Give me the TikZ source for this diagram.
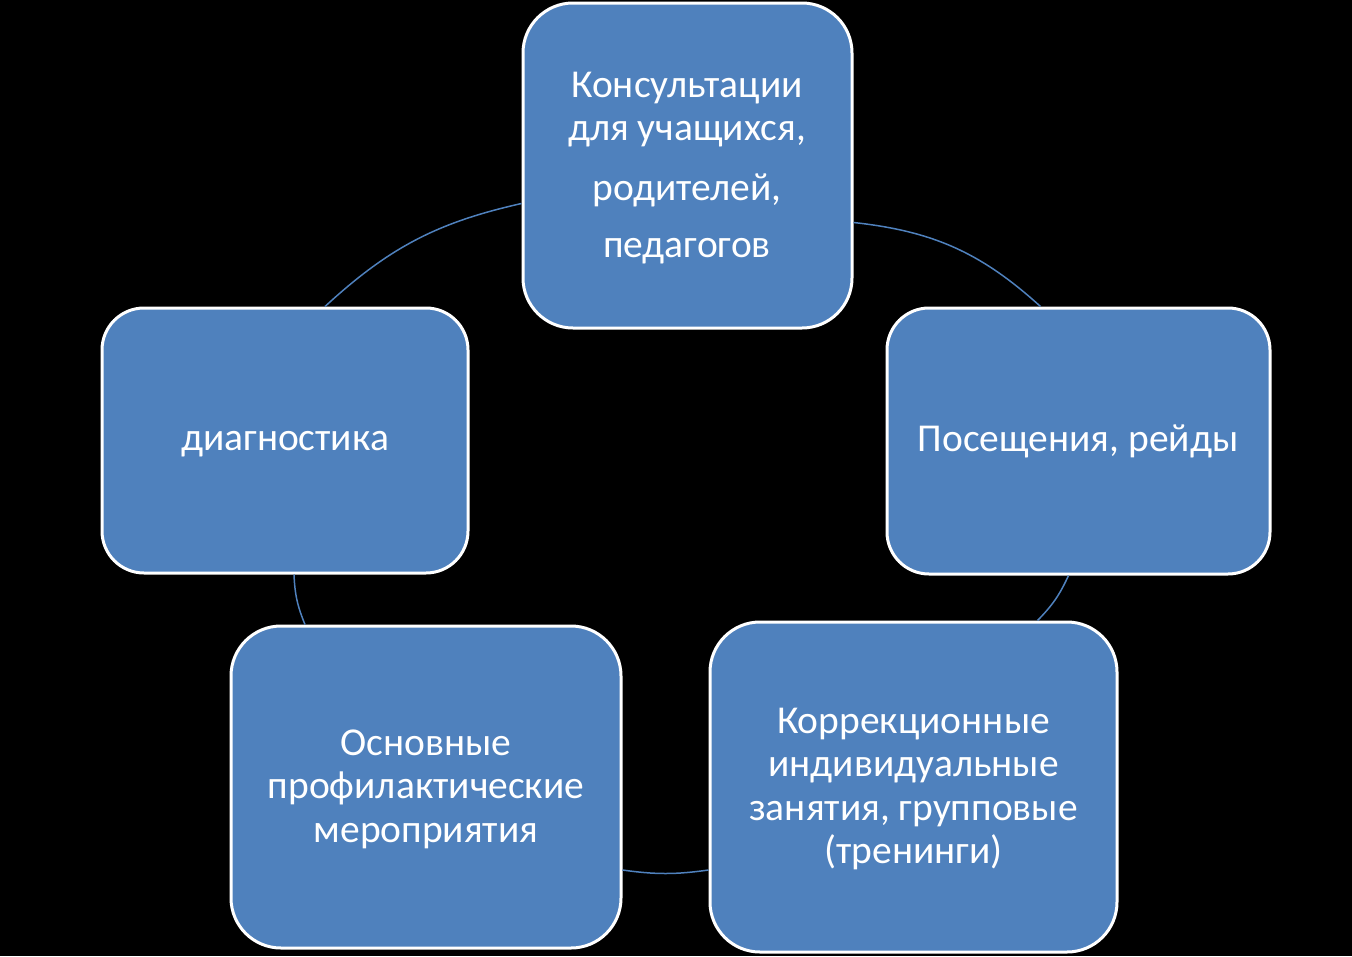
\documentclass[tikz,border=0pt]{standalone}
\usepackage{fontspec}
\setmainfont{Carlito}
\usetikzlibrary{calc}
\definecolor{boxblue}{HTML}{4F81BD}
\tikzset{
  card/.style={draw=white, line width=3pt, fill=boxblue, inner sep=0pt},
  txt/.style={text=white, anchor=base, inner sep=0pt, font=\fontsize{39.5}{44}\selectfont},
  link/.style={draw=boxblue, line width=1.5pt}
}
\begin{document}
\begin{tikzpicture}[x=1pt,y=-1pt]
\fill[black] (0,0) rectangle (1352,956);
\useasboundingbox (0,0) rectangle (1352,956);
% boxes
\node[card, minimum width=329pt, minimum height=325pt, rounded corners=50pt] (top) at (687.5,165.5) {};
\node[card, minimum width=383pt, minimum height=266pt, rounded corners=42pt] (right) at (1078.5,441) {};
\node[card, minimum width=407pt, minimum height=330pt, rounded corners=50pt] (br) at (913.5,787) {};
\node[card, minimum width=390pt, minimum height=322pt, rounded corners=50pt] (bl) at (426,787) {};
\node[card, minimum width=366pt, minimum height=265pt, rounded corners=42pt] (left) at (285,440.5) {};
% texts
\node[txt] (t1) at (687,97) {Консультации};
\node[txt] (t2) at (687,140) {для учащихся,};
\node[txt] (t3) at (687,200) {родителей,};
\node[txt] (t4) at (687,257) {педагогов};
\node[txt] (r1) at (1078,451) {Посещения, рейды};
\node[txt] (c1t) at (913.5,733) {Коррекционные};
\node[txt] (c2t) at (913.5,776.5) {индивидуальные};
\node[txt] (c3t) at (913.5,820) {занятия, групповые};
\node[txt] (c4t) at (913.5,863.5) {(тренинги)};
\node[txt] (o1) at (426,755) {Основные};
\node[txt] (o2) at (426,798.5) {профилактические};
\node[txt] (o3) at (426,842) {мероприятия};
\node[txt] (l1) at (285,450) {диагностика};
% connector end points
\coordinate (a1) at ($(left.north)+(40,0)$);
\coordinate (a2) at ($(top.west)+(0,38)$);
\coordinate (b1) at ($(top.east)+(0,57)$);
\coordinate (b2) at ($(right.north)+(-38,0)$);
\coordinate (c1) at ($(right.south)+(-10,0)$);
\coordinate (c2) at ($(br.north)+(124,0)$);
\coordinate (d1) at ($(br.west)+(0,83)$);
\coordinate (d2) at ($(bl.east)+(0,83)$);
\coordinate (e1) at ($(bl.north)+(-121,0)$);
\coordinate (e2) at ($(left.south)+(9,0)$);
\draw[link] (a1) to[bend left=15] (a2);
\draw[link] (b1) to[bend left=18] (b2);
\draw[link] (c1) to[bend left=10] (c2);
\draw[link] (d1) to[bend left=8] (d2);
\draw[link] (e1) to[bend left=10] (e2);
\end{tikzpicture}
\end{document}
